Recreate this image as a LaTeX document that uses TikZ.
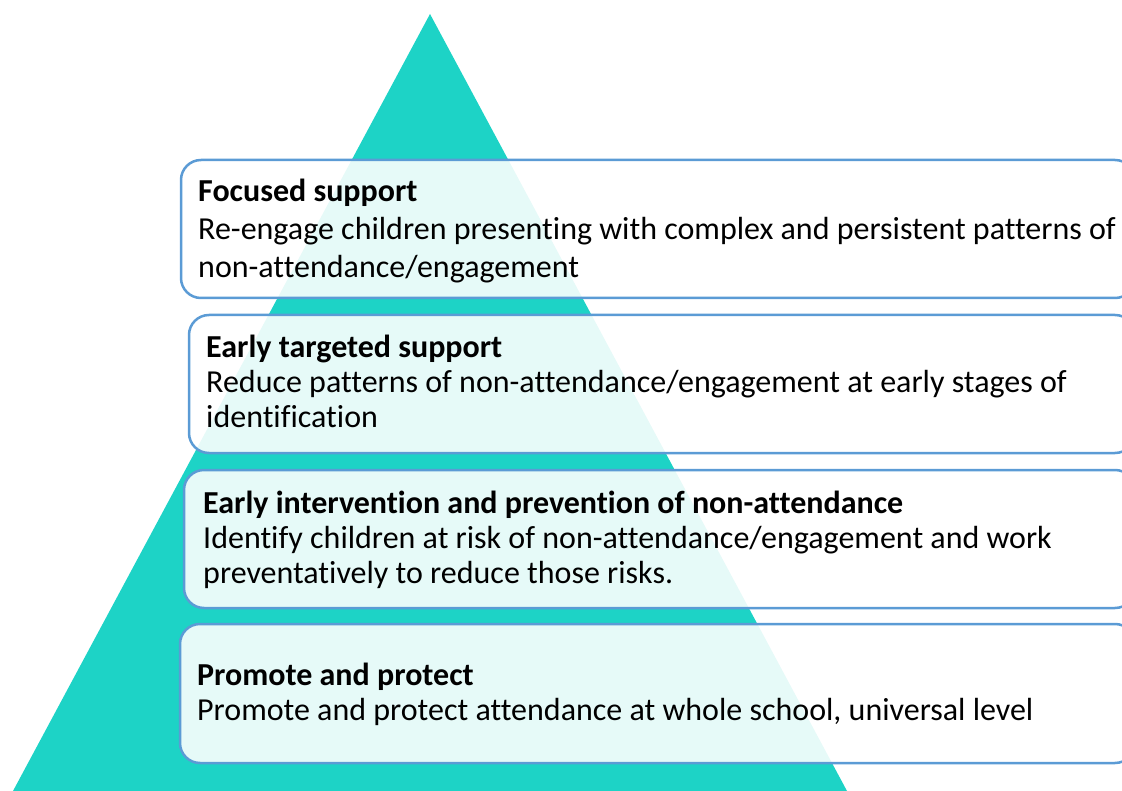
\documentclass[tikz,border=0pt]{standalone}
\usepackage{fontspec}
\setmainfont[Ligatures={NoCommon}]{Carlito}
\definecolor{teal}{HTML}{1DD3C6}
\definecolor{edge}{HTML}{5B9BD5}
\begin{document}
\begin{tikzpicture}[x=1pt,y=-1pt,
  tier/.style={draw=edge, line width=2.5pt, fill=white, fill opacity=0.89, rounded corners=20pt, inner sep=0pt, rectangle},
  big/.style={anchor=base west, inner sep=0pt, font=\fontsize{32}{38}\selectfont},
  small/.style={anchor=base west, inner sep=0pt, font=\fontsize{32}{38}\selectfont}]
\useasboundingbox (0,0) rectangle (1122,791);
\begin{scope}
\clip (0,0) rectangle (1122,791);
\fill[teal] (430,14) -- (847,791) -- (13,791) -- cycle;
\node[tier, minimum width=954pt, minimum height=138pt] (b1) at (658,229) {};
\node[tier, minimum width=946pt, minimum height=138pt] (b2) at (662,384) {};
\node[tier, minimum width=951pt, minimum height=138pt] (b3) at (659.5,539) {};
\node[tier, minimum width=955pt, minimum height=139pt] (b4) at (657.5,693.5) {};
\end{scope}
\node[big] (t1a) at (198,202) {\bfseries Focused support};
\node[big] (t1b) at (198,240) {Re-engage children presenting with complex and persistent patterns of};
\node[big] (t1c) at (198,278) {non-attendance/engagement};
\node[small] (t2a) at (206,358) {\bfseries Early targeted support};
\node[small] (t2b) at (206,393) {Reduce patterns of non-attendance/engagement at early stages of};
\node[small] (t2c) at (206,428) {identification};
\node[small] (t3a) at (203,513) {\bfseries Early intervention and prevention of non-attendance};
\node[small] (t3b) at (203,548) {Identify children at risk of non-attendance/engagement and work};
\node[small] (t3c) at (203,583) {preventatively to reduce those risks.};
\node[small] (t4a) at (197,685) {\bfseries Promote and protect};
\node[small] (t4b) at (197,720) {Promote and protect attendance at whole school, universal level};
\end{tikzpicture}
\end{document}
